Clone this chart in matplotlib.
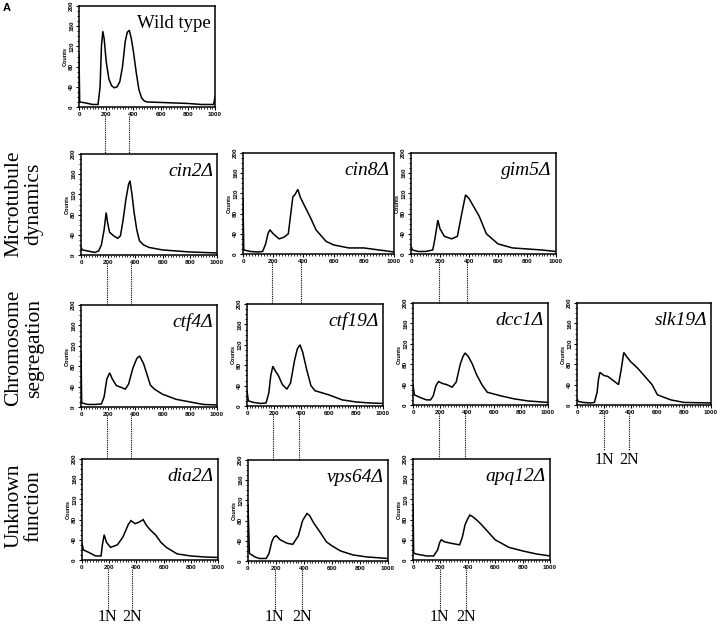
import matplotlib
matplotlib.use('Agg')
import matplotlib.pyplot as plt
from matplotlib.ticker import MultipleLocator
from matplotlib.lines import Line2D
from matplotlib.transforms import blended_transform_factory

# ---------------- data (DNA content vs counts) ----------------
wt_x = [0, 5, 50, 100, 140, 155, 165, 175, 185, 200, 220, 240, 260, 280, 300, 320, 340, 355, 370, 385, 400, 420, 440, 460, 480, 500, 600, 700, 800, 900, 990, 1000]
wt_y = [105, 10, 8, 5, 5, 40, 120, 150, 135, 90, 55, 42, 38, 40, 50, 80, 130, 148, 152, 135, 110, 70, 35, 18, 12, 10, 9, 8, 7, 5, 5, 20]

cin2_x = [0, 10, 50, 100, 130, 150, 170, 185, 195, 210, 240, 270, 290, 310, 330, 350, 360, 375, 390, 410, 430, 460, 500, 600, 700, 800, 900, 1000]
cin2_y = [15, 10, 8, 5, 8, 20, 50, 84, 65, 45, 38, 33, 38, 70, 110, 140, 147, 120, 85, 50, 28, 20, 15, 10, 8, 6, 5, 4]

cin8_x = [0, 5, 50, 100, 130, 150, 165, 178, 200, 239, 270, 300, 330, 345, 363, 380, 400, 450, 483, 550, 600, 700, 800, 900, 1000]
cin8_y = [110, 8, 5, 4, 5, 20, 40, 48, 40, 30, 33, 40, 113, 118, 128, 112, 100, 70, 48, 25, 18, 12, 12, 8, 4]

gim5_x = [0, 10, 50, 100, 150, 165, 185, 200, 230, 280, 320, 350, 376, 400, 420, 470, 520, 600, 700, 800, 900, 1000]
gim5_y = [15, 8, 5, 5, 8, 30, 67, 50, 35, 30, 35, 80, 117, 110, 100, 75, 40, 20, 12, 10, 8, 5]

ctf4_x = [0, 5, 50, 100, 150, 170, 190, 211, 230, 260, 300, 326, 350, 380, 410, 431, 460, 490, 510, 540, 600, 700, 800, 900, 1000]
ctf4_y = [108, 8, 5, 5, 6, 20, 55, 67, 55, 42, 38, 35, 45, 75, 95, 100, 85, 60, 43, 35, 25, 15, 10, 5, 4]

ctf19_x = [0, 10, 50, 100, 140, 160, 175, 190, 210, 230, 260, 293, 320, 350, 370, 390, 410, 440, 470, 500, 600, 700, 800, 900, 1000]
ctf19_y = [30, 10, 7, 5, 6, 25, 60, 78, 68, 60, 42, 33, 45, 90, 112, 120, 105, 70, 40, 30, 22, 12, 8, 6, 5]

dcc1_x = [0, 10, 50, 100, 130, 150, 170, 189, 220, 250, 290, 320, 350, 370, 386, 410, 440, 470, 510, 550, 650, 750, 850, 1000]
dcc1_y = [40, 20, 15, 10, 10, 18, 38, 46, 42, 40, 35, 45, 80, 95, 102, 95, 80, 60, 40, 25, 18, 12, 8, 5]

slk19_x = [0, 10, 50, 100, 130, 150, 160, 171, 200, 230, 260, 310, 330, 349, 370, 400, 430, 460, 510, 560, 600, 700, 800, 1000]
slk19_y = [12, 7, 5, 4, 5, 25, 50, 64, 58, 56, 50, 40, 70, 103, 95, 85, 78, 70, 55, 40, 20, 10, 5, 4]

dia2_x = [0, 10, 50, 100, 140, 150, 163, 180, 210, 260, 300, 340, 360, 390, 420, 450, 470, 500, 540, 580, 620, 700, 800, 900, 1000]
dia2_y = [33, 20, 15, 8, 8, 30, 50, 35, 25, 30, 45, 70, 78, 72, 75, 80, 70, 60, 50, 35, 25, 12, 8, 6, 5]

vps64_x = [0, 10, 50, 80, 130, 150, 170, 185, 202, 230, 280, 320, 360, 390, 421, 440, 470, 520, 560, 600, 660, 750, 850, 1000]
vps64_y = [110, 15, 8, 5, 5, 15, 38, 47, 50, 42, 35, 33, 50, 80, 94, 90, 75, 55, 38, 30, 20, 12, 8, 5]

apq12_x = [0, 5, 20, 100, 150, 180, 195, 207, 230, 280, 340, 360, 380, 400, 415, 440, 470, 500, 550, 600, 700, 800, 900, 1000]
apq12_y = [110, 14, 12, 8, 8, 20, 35, 40, 36, 33, 30, 45, 70, 82, 89, 85, 78, 70, 55, 40, 25, 18, 12, 8]

# per-column 1N / 2N guide positions (DNA content units)
colA_guides = [190, 370]
colB_guides = [190, 385]
colC_guides = [195, 385]
colD_guides = [205, 385]

# ---------------- figure ----------------
W, H = 720, 624
fig = plt.figure(figsize=(W / 100, H / 100), dpi=100)
fig.patch.set_facecolor('white')

SERIF = 'Liberation Serif'
SANS = 'Liberation Sans'


def make_ax(box):
    l, t, r, b = box
    ax = fig.add_axes([l / W, 1 - b / H, (r - l) / W, (b - t) / H])
    ax.set_xlim(0, 1000)
    ax.set_ylim(0, 200)
    ax.xaxis.set_major_locator(MultipleLocator(200))
    ax.xaxis.set_minor_locator(MultipleLocator(20))
    ax.yaxis.set_major_locator(MultipleLocator(40))
    ax.yaxis.set_minor_locator(MultipleLocator(10))
    ax.tick_params(which='major', direction='out', length=2.5, width=0.8,
                   labelsize=4.5, pad=1)
    ax.tick_params(which='minor', direction='out', length=1.5, width=0.6)
    for lab in ax.get_xticklabels() + ax.get_yticklabels():
        lab.set_fontfamily(SANS)
        lab.set_fontweight('bold')
    ax.tick_params(axis='y', labelrotation=90)
    for lab in ax.get_yticklabels():
        lab.set_verticalalignment('center')
    ax.set_ylabel('Counts', fontsize=4, fontfamily=SANS, fontweight='bold', labelpad=1)
    for s in ax.spines.values():
        s.set_linewidth(1.1)
    return ax


panels = [
    # name, x, y, box(l,t,r,b), italic, guides
    ('Wild type', wt_x, wt_y, (79, 6, 215, 107), False, colA_guides),
    ('cin2Δ', cin2_x, cin2_y, (81, 154, 217, 255), True, colA_guides),
    ('cin8Δ', cin8_x, cin8_y, (243, 153, 394, 254), True, colB_guides),
    ('gim5Δ', gim5_x, gim5_y, (411, 153, 556, 254), True, colC_guides),
    ('ctf4Δ', ctf4_x, ctf4_y, (81, 305, 217, 407), True, colA_guides),
    ('ctf19Δ', ctf19_x, ctf19_y, (247, 304, 383, 406), True, colB_guides),
    ('dcc1Δ', dcc1_x, dcc1_y, (413, 303, 548, 405), True, colC_guides),
    ('slk19Δ', slk19_x, slk19_y, (577, 303, 711, 405), True, colD_guides),
    ('dia2Δ', dia2_x, dia2_y, (82, 459, 218, 560), True, colA_guides),
    ('vps64Δ', vps64_x, vps64_y, (248, 460, 388, 561), True, colB_guides),
    ('apq12Δ', apq12_x, apq12_y, (413, 459, 550, 560), True, colC_guides),
]

axes = {}
for name, xs, ys, box, ital, guides in panels:
    ax = make_ax(box)
    ax.plot(xs, ys, color='black', lw=1.1, solid_joinstyle='miter')
    ax.text(0.97, 0.78, name, transform=ax.transAxes, ha='right', va='baseline',
            fontsize=13.5 if not ital else 14, fontfamily=SERIF,
            fontstyle='italic' if ital else 'normal')
    axes[name] = (ax, box, guides)


def guide(axname, y0, y1):
    ax, box, guides = axes[axname]
    tr = blended_transform_factory(ax.transData, fig.transFigure)
    for g in guides:
        fig.add_artist(Line2D([g, g], [1 - y0 / H, 1 - y1 / H], transform=tr,
                              color='black', lw=0.8, linestyle=(0, (1, 1))))


# connectors between rows
guide('Wild type', 116, 154)
guide('cin2Δ', 263, 305)
guide('ctf4Δ', 415, 459)
guide('cin8Δ', 262, 304)
guide('ctf19Δ', 414, 460)
guide('gim5Δ', 262, 303)
guide('dcc1Δ', 413, 459)

# bottom guides with 1N / 2N labels
for axname, y0, y1, ty in [('dia2Δ', 569, 610, 621), ('vps64Δ', 570, 610, 621),
                           ('apq12Δ', 569, 610, 621), ('slk19Δ', 413, 450, 464)]:
    guide(axname, y0, y1)
    ax, box, guides = axes[axname]
    tr = blended_transform_factory(ax.transData, fig.transFigure)
    for g, lab in zip(guides, ['1N', '2N']):
        fig.text(g, 1 - ty / H, lab, transform=tr, ha='center', va='baseline',
                 fontsize=11.5, fontfamily=SERIF)

# row labels
for label, yc in [('Microtubule\ndynamics', 204), ('Chromosome\nsegregation', 348),
                  ('Unknown\nfunction', 506)]:
    fig.text(24 / W, 1 - yc / H, label, rotation=90, ha='center', va='center',
             fontsize=15.5, fontfamily=SERIF, linespacing=1.1, multialignment='center')

fig.text(7 / W, 1 - 8 / H, 'A', ha='center', va='center', fontsize=8,
         fontweight='bold', fontfamily=SANS)

fig.savefig('out.png', dpi=100, facecolor='white')
